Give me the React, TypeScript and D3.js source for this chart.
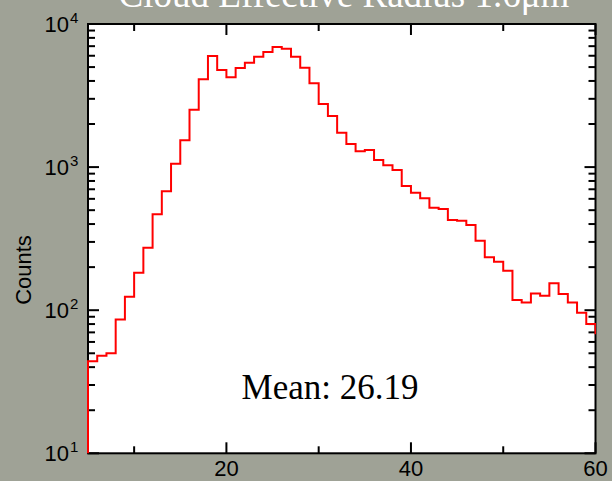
import * as d3 from "d3";
import React from "react";

// histogram: unit bins starting at 5
const binStart = 5;
const counts = [
    44, 48, 50, 86, 124, 183, 273, 468, 678, 1057, 1540, 2518, 4106, 5975, 4772, 4240,
    4925, 5370, 5910, 6372, 6907, 6725, 5910, 4952, 3850, 2761, 2277, 1740, 1450, 1288,
    1317, 1122, 1029, 954, 738, 662, 605, 520, 509, 427, 422, 394, 306, 234, 218, 189,
    118, 113, 131, 126, 154, 130, 113, 96, 80, 69,
];
const xTicks = [10, 20, 30, 40, 50, 60];
const xLabels = [20, 40, 60];
const yDecades = [1, 2, 3, 4];
const title = "Cloud Effective Radius 1.6μm";
const yTitle = "Counts";
const meanLabel = "Mean: 26.19";

const W = 612;
const H = 481;
const M = { left: 88, right: 595.5, top: 24, bottom: 453.3 };

export default function App() {
    const x = d3.scaleLinear().domain([5, 60]).range([M.left, M.right]);
    const y = d3.scaleLog().domain([10, 10000]).range([M.bottom, M.top]);

    const pts: [number, number][] = [[binStart, 1]];
    counts.forEach((c, i) => pts.push([binStart + i, c]));
    pts.push([binStart + counts.length, counts[counts.length - 1]]);

    const line = d3
        .line<[number, number]>()
        .x((d) => x(d[0]))
        .y((d) => y(d[1]))
        .curve(d3.curveStepAfter);

    const minor: number[] = [];
    yDecades.slice(0, -1).forEach((d) => {
        for (let m = 2; m < 10; m++) minor.push(m * Math.pow(10, d));
    });

    const font = "'Liberation Sans', Arial, sans-serif";
    const serif = "'Liberation Serif', 'Times New Roman', serif";

    return (
        <svg width={W} height={H} style={{ position: "absolute", left: 0, top: 0 }}>
            <defs>
                <clipPath id="plot">
                    <rect x={M.left - 1} y={M.top} width={M.right - M.left + 1.5} height={M.bottom - M.top} />
                </clipPath>
            </defs>
            <rect width={W} height={H} fill="#9fa296" />
            <text x={344} y={7} textAnchor="middle" fill="#fff" fontFamily={serif} fontSize={37}>
                {title}
            </text>
            <rect x={M.left} y={M.top} width={M.right - M.left} height={M.bottom - M.top} fill="#fff" stroke="#000" strokeWidth={2} />

            {/* x ticks */}
            {xTicks.map((t) => {
                const len = xLabels.includes(t) ? 11 : 7;
                return (
                    <g key={t} stroke="#000" strokeWidth={2}>
                        <line x1={x(t)} x2={x(t)} y1={M.bottom} y2={M.bottom - len} />
                        <line x1={x(t)} x2={x(t)} y1={M.top} y2={M.top + len} />
                    </g>
                );
            })}
            {/* y ticks */}
            {yDecades.map((d) => (
                <g key={d} stroke="#000" strokeWidth={2}>
                    <line x1={M.left} x2={M.left + 11} y1={y(10 ** d)} y2={y(10 ** d)} />
                    <line x1={M.right} x2={M.right - 11} y1={y(10 ** d)} y2={y(10 ** d)} />
                </g>
            ))}
            {minor.map((v) => (
                <g key={v} stroke="#000" strokeWidth={2}>
                    <line x1={M.left} x2={M.left + 7} y1={y(v)} y2={y(v)} />
                    <line x1={M.right} x2={M.right - 7} y1={y(v)} y2={y(v)} />
                </g>
            ))}

            <path d={line(pts) || ""} fill="none" stroke="#ff0000" strokeWidth={2} clipPath="url(#plot)" />

            {xLabels.map((t) => (
                <text key={t} x={x(t)} y={476} textAnchor="middle" fontFamily={font} fontSize={22}>
                    {t}
                </text>
            ))}
            {yDecades.map((d) => (
                <text key={d} x={69} y={y(10 ** d) + 8} textAnchor="end" fontFamily={font} fontSize={22}>
                    10
                    <tspan x={70} dy={-9} textAnchor="start" fontSize={15}>
                        {d}
                    </tspan>
                </text>
            ))}
            <text transform={`translate(31,270) rotate(-90)`} textAnchor="middle" fontFamily={font} fontSize={22}>
                {yTitle}
            </text>
            <text x={330} y={399} textAnchor="middle" fontFamily={serif} fontSize={35}>
                {meanLabel}
            </text>
        </svg>
    );
}
